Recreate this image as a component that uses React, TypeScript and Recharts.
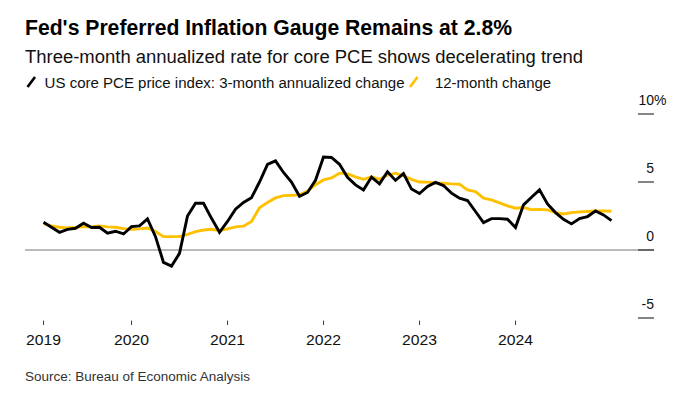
import React from 'react';
import { LineChart, Line, XAxis, YAxis, ReferenceLine } from 'recharts';

// Monthly observations, Jan 2019 .. Dec 2024 (month-end dated)
const months: string[] = [
  '2019-01','2019-02','2019-03','2019-04','2019-05','2019-06','2019-07','2019-08','2019-09','2019-10','2019-11','2019-12',
  '2020-01','2020-02','2020-03','2020-04','2020-05','2020-06','2020-07','2020-08','2020-09','2020-10','2020-11','2020-12',
  '2021-01','2021-02','2021-03','2021-04','2021-05','2021-06','2021-07','2021-08','2021-09','2021-10','2021-11','2021-12',
  '2022-01','2022-02','2022-03','2022-04','2022-05','2022-06','2022-07','2022-08','2022-09','2022-10','2022-11','2022-12',
  '2023-01','2023-02','2023-03','2023-04','2023-05','2023-06','2023-07','2023-08','2023-09','2023-10','2023-11','2023-12',
  '2024-01','2024-02','2024-03','2024-04','2024-05','2024-06','2024-07','2024-08','2024-09','2024-10','2024-11','2024-12',
];

// US core PCE price index: 3-month annualized change (%)
const core3m: number[] = [
  2.04, 1.67, 1.30, 1.52, 1.60, 1.97, 1.65, 1.67, 1.23, 1.38, 1.18, 1.72,
  1.77, 2.29, 0.98, -0.91, -1.18, -0.25, 2.50, 3.44, 3.44, 2.33, 1.30, 2.10,
  3.00, 3.50, 3.85, 5.00, 6.30, 6.55, 5.70, 5.00, 3.95, 4.23, 5.13, 6.83,
  6.80, 6.30, 5.35, 4.79, 4.42, 5.36, 4.86, 5.75, 5.12, 5.62, 4.48, 4.15,
  4.67, 4.97, 4.74, 4.18, 3.81, 3.64, 2.83, 2.01, 2.31, 2.31, 2.26, 1.65,
  3.32, 3.88, 4.42, 3.39, 2.75, 2.26, 1.92, 2.31, 2.46, 2.87, 2.58, 2.16,
];

// 12-month change (%)
const core12m: number[] = [
  1.92, 1.77, 1.67, 1.62, 1.65, 1.72, 1.70, 1.77, 1.70, 1.67, 1.57, 1.52,
  1.55, 1.62, 1.35, 0.98, 0.98, 0.98, 1.15, 1.35, 1.47, 1.52, 1.43, 1.55,
  1.70, 1.75, 2.10, 3.10, 3.50, 3.83, 4.00, 4.02, 4.05, 4.33, 4.80, 5.15,
  5.30, 5.65, 5.60, 5.38, 5.20, 5.38, 5.20, 5.50, 5.65, 5.45, 5.20, 5.00,
  4.99, 4.93, 4.91, 4.86, 4.84, 4.42, 4.30, 3.81, 3.69, 3.46, 3.24, 3.07,
  3.12, 2.97, 2.99, 2.95, 2.75, 2.65, 2.75, 2.80, 2.83, 2.87, 2.87, 2.85,
];

const yearLabels: string[] = ['2019', '2020', '2021', '2022', '2023', '2024'];
const yTickValues: number[] = [-5, 0, 5, 10];
const yTickLabels: string[] = ['-5', '0', '5', '10'];

const seriesNames = {
  core3m: 'US core PCE price index: 3-month annualized change',
  core12m: '12-month change',
};

const data = months.map((m, i) => ({ t: i, month: m, core3m: core3m[i], core12m: core12m[i] }));

// Year ticks sit at the turn of the year (the December month-end point);
// the first label is held at the first observation.
const yearTickIdx: number[] = yearLabels.map((y) => {
  const idx = months.indexOf(`${Number(y) - 1}-12`);
  return idx < 0 ? 0 : idx;
});
const labelByIdx: Record<number, string> = {};
yearTickIdx.forEach((idx, k) => { labelByIdx[idx] = yearLabels[k]; });

const FONT = '"Liberation Sans", Arial, Helvetica, sans-serif';

const XTick = (props: any) => {
  const { x, y, payload } = props;
  const label = labelByIdx[payload.value];
  return (
    <g>
      <line x1={x} x2={x} y1={y + 2.5} y2={y + 7} stroke="#444" strokeWidth={1} />
      <text x={x} y={y + 27} textAnchor="middle" fontSize={14} fill="#111" fontFamily={FONT}
        textLength={35} lengthAdjust="spacingAndGlyphs">{label}</text>
    </g>
  );
};

const YTick = (props: any) => {
  const { x, y, payload } = props;
  const k = yTickValues.indexOf(payload.value);
  const label = k >= 0 ? yTickLabels[k] : String(payload.value);
  const isTop = payload.value === yTickValues[yTickValues.length - 1];
  return (
    <g>
      <line x1={x - 16} x2={x} y1={y} y2={y} stroke="#333" strokeWidth={1.2} />
      <text x={x} y={y - 9.5} textAnchor="end" fontSize={14} fill="#111" fontFamily={FONT}>{label}</text>
      {isTop ? (
        <text x={x} y={y - 9.5} textAnchor="start" fontSize={14} fill="#111" fontFamily={FONT}>%</text>
      ) : null}
    </g>
  );
};

export default function App() {
  return (
    <div style={{ position: 'fixed', left: 0, top: 0, width: 679, height: 394, background: '#fff', overflow: 'hidden' }}>
      <svg width={679} height={394} style={{ position: 'absolute', left: 0, top: 0 }} fontFamily={FONT}>
        <text x={25} y={34.5} fontSize={22} fontWeight={700} fill="#000" textLength={487} lengthAdjust="spacingAndGlyphs">
          Fed's Preferred Inflation Gauge Remains at 2.8%
        </text>
        <text x={25} y={63} fontSize={17.5} fill="#111" textLength={558} lengthAdjust="spacingAndGlyphs">
          Three-month annualized rate for core PCE shows decelerating trend
        </text>
        <line x1={27.5} y1={87} x2={35} y2={77} stroke="#000" strokeWidth={2.6} />
        <text x={44.6} y={87.5} fontSize={14} fill="#111" textLength={360} lengthAdjust="spacingAndGlyphs">
          {seriesNames.core3m}
        </text>
        <line x1={410} y1={87} x2={417.5} y2={77} stroke="#FFC000" strokeWidth={2.6} />
        <text x={435} y={87.5} fontSize={14} fill="#111" textLength={116} lengthAdjust="spacingAndGlyphs">
          {seriesNames.core12m}
        </text>
        <text x={25} y={381} fontSize={12.5} fill="#333" textLength={225} lengthAdjust="spacingAndGlyphs">
          Source: Bureau of Economic Analysis
        </text>
      </svg>
      <div style={{ position: 'absolute', left: 0, top: 0 }}>
        <LineChart width={679} height={394} data={data} margin={{ top: 114, right: 0, bottom: 0, left: 25 }}>
          <XAxis dataKey="t" type="number" domain={[-2.3125, 76.3125]} allowDataOverflow ticks={yearTickIdx}
            interval={0} axisLine={false} tickLine={false} tickSize={0} tickMargin={0} height={76} tick={<XTick />} />
          <YAxis orientation="right" type="number" domain={[-5, 10]} allowDataOverflow ticks={yTickValues}
            interval={0} axisLine={false} tickLine={false} tickSize={0} tickMargin={0} width={25} tick={<YTick />} />
          <ReferenceLine y={0} stroke="#777" strokeWidth={1} />
          <Line dataKey="core12m" name={seriesNames.core12m} type="linear" stroke="#FFC000" strokeWidth={2.9}
            dot={false} activeDot={false} isAnimationActive={false} />
          <Line dataKey="core3m" name={seriesNames.core3m} type="linear" stroke="#000" strokeWidth={2.9}
            dot={false} activeDot={false} isAnimationActive={false} />
        </LineChart>
      </div>
    </div>
  );
}
